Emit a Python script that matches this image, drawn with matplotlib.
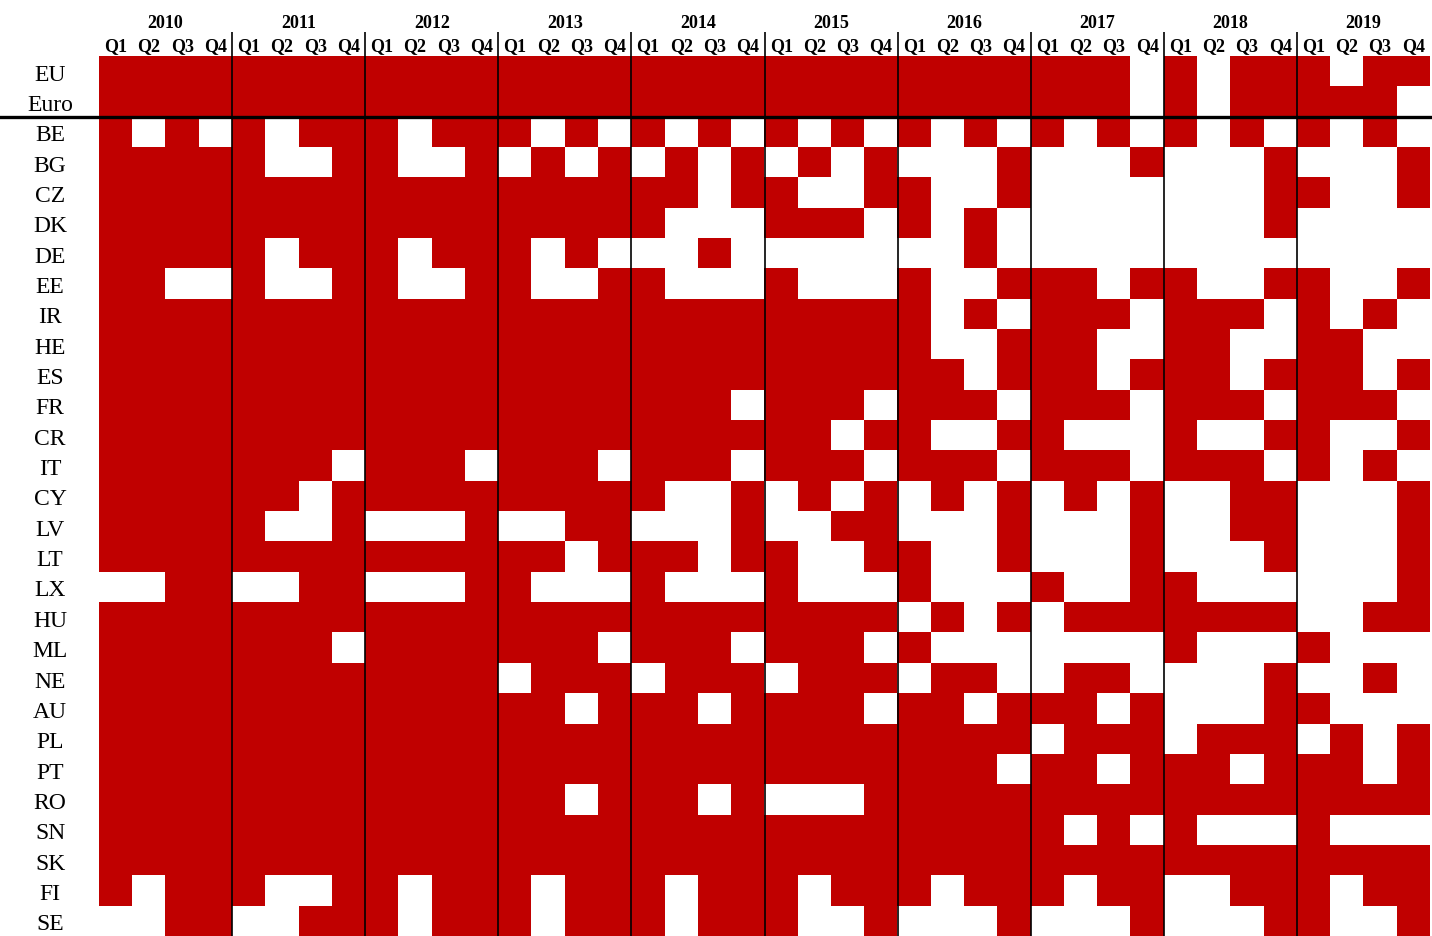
import numpy as np
import matplotlib.pyplot as plt
from matplotlib.colors import ListedColormap

years = [str(y) for y in range(2010, 2020)]
quarters = ["Q1", "Q2", "Q3", "Q4"]
countries = ["EU", "Euro", "BE", "BG", "CZ", "DK", "DE", "EE", "IR", "HE",
             "ES", "FR", "CR", "IT", "CY", "LV", "LT", "LX", "HU", "ML",
             "NE", "AU", "PL", "PT", "RO", "SN", "SK", "FI", "SE"]

# 1 = red cell, 0 = blank; one block of four quarters per year 2010..2019
flags = [
    "1111 1111 1111 1111 1111 1111 1111 1110 1011 1011",  # EU
    "1111 1111 1111 1111 1111 1111 1111 1110 1011 1110",  # Euro
    "1010 1011 1011 1010 1010 1010 1010 1010 1010 1010",  # BE
    "1111 1001 1001 0101 0101 0101 0001 0001 0001 0001",  # BG
    "1111 1111 1111 1111 1101 1001 1001 0000 0001 1001",  # CZ
    "1111 1111 1111 1111 1000 1110 1010 0000 0001 0000",  # DK
    "1111 1011 1011 1010 0010 0000 0010 0000 0000 0000",  # DE
    "1100 1001 1001 1001 1000 1000 1001 1101 1001 1001",  # EE
    "1111 1111 1111 1111 1111 1111 1010 1110 1110 1010",  # IR
    "1111 1111 1111 1111 1111 1111 1001 1100 1100 1100",  # HE
    "1111 1111 1111 1111 1111 1111 1101 1101 1101 1101",  # ES
    "1111 1111 1111 1111 1110 1110 1110 1110 1110 1110",  # FR
    "1111 1111 1111 1111 1111 1101 1001 1000 1001 1001",  # CR
    "1111 1110 1110 1110 1110 1110 1110 1110 1110 1010",  # IT
    "1111 1101 1111 1111 1001 0101 0101 0101 0011 0001",  # CY
    "1111 1001 0001 0011 0001 0011 0001 0001 0011 0001",  # LV
    "1111 1111 1111 1101 1101 1001 1001 0001 0001 0001",  # LT
    "0011 0011 0001 1000 1000 1000 1000 1001 1000 0001",  # LX
    "1111 1111 1111 1111 1111 1111 0101 0111 1111 0011",  # HU
    "1111 1110 1111 1110 1110 1110 1000 0000 1000 1000",  # ML
    "1111 1111 1111 0111 0111 0111 0110 0110 0001 0010",  # NE
    "1111 1111 1111 1101 1101 1110 1101 1101 0001 1000",  # AU
    "1111 1111 1111 1111 1111 1111 1111 0111 0111 0101",  # PL
    "1111 1111 1111 1111 1111 1111 1110 1101 1101 1101",  # PT
    "1111 1111 1111 1101 1101 0001 1111 1111 1111 1111",  # RO
    "1111 1111 1111 1111 1111 1111 1111 1010 1000 1000",  # SN
    "1111 1111 1111 1111 1111 1111 1111 1111 1111 1111",  # SK
    "1011 1001 1011 1011 1011 1011 1011 1011 0011 1011",  # FI
    "0011 0011 1011 1011 1011 1001 0001 0001 0001 1001",  # SE
]

mat = np.array([[int(c) for c in row.replace(" ", "")] for row in flags])
n_rows, n_cols = mat.shape

serif = ["Liberation Serif", "DejaVu Serif"]

fig = plt.figure(figsize=(14.32, 9.36), dpi=100)
ax = fig.add_axes([99 / 1432, 0, (1430 - 99) / 1432, (936 - 56) / 936])
ax.imshow(mat, cmap=ListedColormap(["white", "#C00000"]), aspect="auto",
          interpolation="nearest", extent=(0, n_cols, n_rows, 0), vmin=0, vmax=1)
ax.set_xlim(0, n_cols)
ax.set_ylim(n_rows, 0)
ax.axis("off")

# header: years and quarters
for i, y in enumerate(years):
    ax.text(4 * i + 2, -1.08, y, ha="center", va="center", fontsize=13,
            fontweight="bold", family=serif)
    for j, q in enumerate(quarters):
        ax.text(4 * i + j + 0.5, -0.30, q, ha="center", va="center",
                fontsize=13, fontweight="bold", family=serif)

# country labels
for r, c in enumerate(countries):
    ax.text(-1.47, r + 0.63, c, ha="center", va="center", fontsize=17, family=serif)

# year separators and EU/Euro divider
ax.vlines(np.arange(4, n_cols, 4), -0.79, n_rows, color="black", lw=1.2, clip_on=False)
ax.plot([-2.97, n_cols], [2, 2], color="black", lw=2.4, clip_on=False)

fig.savefig("out.png", dpi=100)
